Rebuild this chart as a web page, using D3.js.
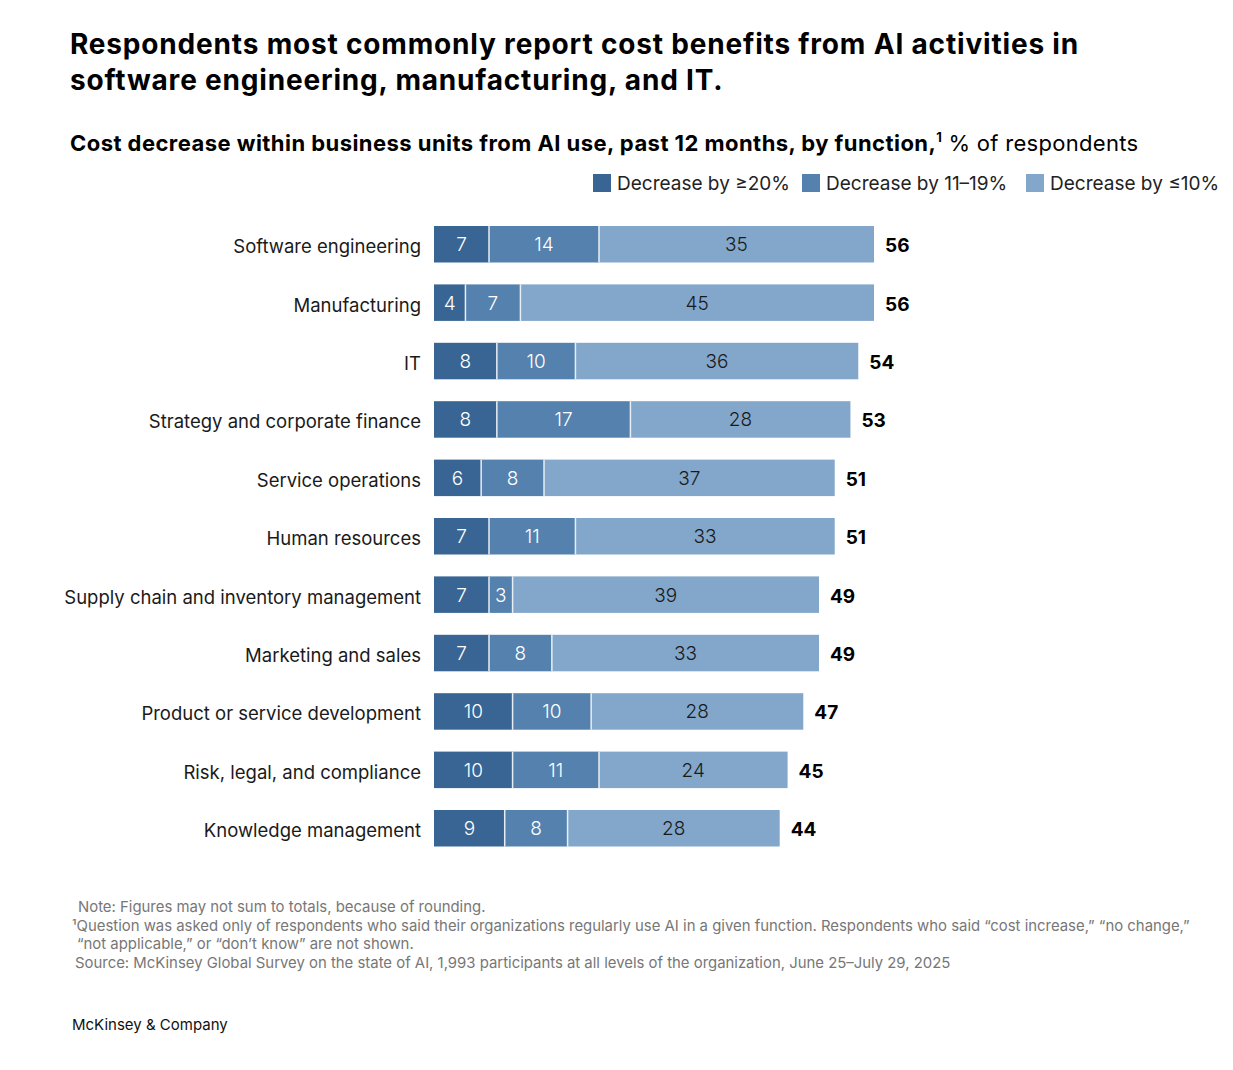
<!DOCTYPE html>
<html><head><meta charset="utf-8">
<script src="https://cdn.jsdelivr.net/npm/d3@7"></script>
<style>
body{margin:0;background:#fff;}
svg text{font-family:Inter,"Noto Sans",sans-serif;}
</style></head>
<body><svg id="c" width="1233" height="1070"></svg>
<script>
const categories = ["Software engineering","Manufacturing","IT","Strategy and corporate finance","Service operations","Human resources","Supply chain and inventory management","Marketing and sales","Product or service development","Risk, legal, and compliance","Knowledge management"];
const dec20 = [7,4,8,8,6,7,7,7,10,10,9];
const dec11to19 = [14,7,10,17,8,11,3,8,10,11,8];
const dec10 = [35,45,36,28,37,33,39,33,28,24,28];
const totals = [56,56,54,53,51,51,49,49,47,45,44];
const seriesNames = ["Decrease by \u226520%","Decrease by 11\u201319%","Decrease by \u226410%"];
const colors = ["#386593","#5481ae","#82a7cb"];
const labelColors = ["#ffffff","#ffffff","#1a1a1a"];

const svg = d3.select("#c");
const x = d3.scaleLinear().domain([0,56]).range([434,874]);
const y = d3.scaleBand().domain(categories).range([226,846.5]).paddingInner(0.375).paddingOuter(0);

// Title
svg.append("text").attr("x",70).attr("y",54).attr("font-size",28).attr("font-weight",700).attr("letter-spacing",0.82).attr("fill","#000")
  .text("Respondents most commonly report cost benefits from AI activities in");
svg.append("text").attr("x",70).attr("y",90).attr("font-size",28).attr("font-weight",700).attr("letter-spacing",0.82).attr("fill","#000")
  .text("software engineering, manufacturing, and IT.");

const sub = svg.append("text").attr("x",70).attr("y",151).attr("font-size",22).attr("fill","#000");
sub.append("tspan").attr("font-weight",700).attr("letter-spacing",0.45).text("Cost decrease within business units from AI use, past 12 months, by function,");
sub.append("tspan").attr("font-weight",700).attr("font-size",13).attr("dy",-9).text("1");
sub.append("tspan").attr("dy",9).attr("font-weight",400).attr("letter-spacing",0.3).text(" % of respondents");

// Legend
const legX = [593,802,1026];
seriesNames.forEach((n,i)=>{
  svg.append("rect").attr("x",legX[i]).attr("y",174).attr("width",18).attr("height",18).attr("fill",colors[i]);
  svg.append("text").attr("x",legX[i]+24).attr("y",190).attr("font-size",19).attr("fill","#222").text(n);
});

// Bars
const rows = categories.map((c,i)=>({c, v:[dec20[i],dec11to19[i],dec10[i]], t:totals[i]}));
rows.forEach(r=>{
  const y0 = y(r.c), h = y.bandwidth();
  const g = svg.append("g");
  const starts = [0, r.v[0], r.v[0]+r.v[1]];
  const ends = [r.v[0], r.v[0]+r.v[1], r.t];
  for(let k=0;k<3;k++){
    const xs = x(starts[k]), xe = x(ends[k]);
    g.append("rect").attr("x",xs).attr("y",y0).attr("width",xe-xs).attr("height",h).attr("fill",colors[k]);
    if(k>0) g.append("line").attr("x1",xs).attr("x2",xs).attr("y1",y0).attr("y2",y0+h).attr("stroke","#e8eef5").attr("stroke-width",1.5);
    g.append("text").attr("x",(xs+xe)/2).attr("y",y0+h/2+7).attr("text-anchor","middle").attr("font-size",19)
      .attr("font-weight",300).attr("fill",labelColors[k]).text(r.v[k]);
  }
  g.append("text").attr("x",x(r.t)+11).attr("y",y0+h/2+8).attr("font-size",19).attr("font-weight",700).attr("fill","#000").text(r.t);
  g.append("text").attr("x",421).attr("y",y0+h/2+9).attr("text-anchor","end").attr("font-size",18.5).attr("font-weight",400).attr("fill","#1a1a1a").text(r.c);
});

// Footnotes
const fn = [
  [78,912,"Note: Figures may not sum to totals, because of rounding."],
  [72,931,"\u00b9Question was asked only of respondents who said their organizations regularly use AI in a given function. Respondents who said \u201ccost increase,\u201d \u201cno change,\u201d"],
  [77,949,"\u201cnot applicable,\u201d or \u201cdon\u2019t know\u201d are not shown."],
  [75,968,"Source: McKinsey Global Survey on the state of AI, 1,993 participants at all levels of the organization, June 25\u2013July 29, 2025"]
];
fn.forEach(f=>svg.append("text").attr("x",f[0]).attr("y",f[1]).attr("font-size",14.9).attr("fill","#777").text(f[2]));
svg.append("text").attr("x",72).attr("y",1030).attr("font-size",15).attr("fill","#111").text("McKinsey & Company");
</script></body></html>
